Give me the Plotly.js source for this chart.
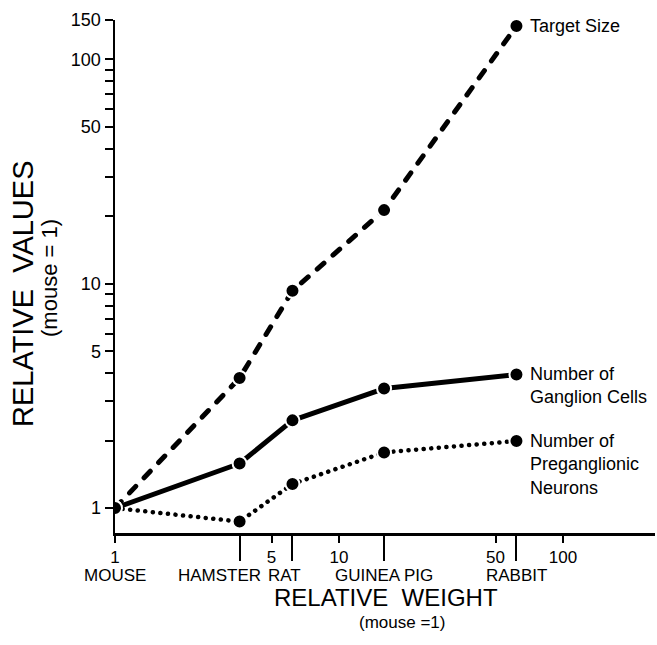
<!DOCTYPE html>
<html>
<head>
<meta charset="utf-8">
<script src="https://cdn.plot.ly/plotly-3.0.1.min.js"></script>
<style>
  html, body { margin: 0; padding: 0; background: #fff; }
  #chart { width: 657px; height: 645px; }
  .scatterlayer .js-line { stroke-linecap: round; stroke-linejoin: round; }
</style>
</head>
<body>
<div id="chart"></div>
<script>
// Data (log-log, mouse = 1)
const animals = ["MOUSE", "HAMSTER", "RAT", "GUINEA PIG", "RABBIT"];
const relativeWeight = [1, 3.6, 6.2, 15.9, 62];
const targetSize = [1, 3.8, 9.3, 21.3, 141];
const ganglionCells = [1, 1.58, 2.46, 3.41, 3.94];
const preganglionicNeurons = [1, 0.87, 1.28, 1.77, 1.99];

const seriesLabels = ["Target Size", "Number of<br>Ganglion Cells", "Number of<br>Preganglionic<br>Neurons"];

const xTickVals = [1, 5, 10, 50, 100];
const xTickText = ["1", "5", "10", "50", "100"];
const yTickVals = [1, 5, 10, 50, 100, 150];
const yTickText = ["1", "5", "10", "50", "100", "150"];
const yMinorVals = [2, 3, 4, 6, 7, 8, 9, 20, 30, 40, 60, 70, 80, 90];

const FONT = "Liberation Sans, Arial, sans-serif";
const marker = { color: "#000", size: 14, line: { color: "#fff", width: 2 } };

const traces = [
  { x: relativeWeight, y: targetSize, mode: "lines+markers", type: "scatter",
    line: { color: "#000", width: 5, dash: "9px,12px" }, marker: marker, hoverinfo: "skip" },
  { x: relativeWeight, y: ganglionCells, mode: "lines+markers", type: "scatter",
    line: { color: "#000", width: 5 }, marker: marker, hoverinfo: "skip" },
  { x: relativeWeight, y: preganglionicNeurons, mode: "lines+markers", type: "scatter",
    line: { color: "#000", width: 4.5, dash: "0.1px,7.5px" }, marker: marker, hoverinfo: "skip" },
  // carrier for the animal tick axis
  { x: relativeWeight.slice(1), y: ganglionCells.slice(1), xaxis: "x2", yaxis: "y", mode: "markers",
    marker: { opacity: 0 }, hoverinfo: "skip", showlegend: false }
];

const annotations = [];
// series labels at the last point
const seriesData = [targetSize, ganglionCells, preganglionicNeurons];
const last = relativeWeight.length - 1;
seriesData.forEach((s, i) => {
  annotations.push({
    x: Math.log10(relativeWeight[last]), y: Math.log10(s[last]), xref: "x", yref: "y",
    text: seriesLabels[i], showarrow: false, xanchor: "left", yanchor: "top",
    align: "left", xshift: 12, yshift: 12,
    font: { family: FONT, size: 18, color: "#000" }
  });
});
// animal names under the axis
const nameShift = [0, -20, -8, 0, 0];
animals.forEach((a, i) => {
  annotations.push({
    x: Math.log10(relativeWeight[i]), y: -0.0838, xref: "x", yref: "paper",
    text: a, showarrow: false, xanchor: "center", yanchor: "middle", xshift: nameShift[i],
    font: { family: FONT, size: 17, color: "#000" }
  });
});
// axis titles
annotations.push(
  { x: -0.1704, y: 0.4659, xref: "paper", yref: "paper", text: "RELATIVE  VALUES", textangle: -90,
    xanchor: "center", yanchor: "middle",
    showarrow: false, font: { family: FONT, size: 29, color: "#000" } },
  { x: -0.1204, y: 0.4971, xref: "paper", yref: "paper", text: "(mouse = 1)", textangle: -90,
    xanchor: "center", yanchor: "middle",
    showarrow: false, font: { family: FONT, size: 22, color: "#000" } },
  { x: 0.5019, y: -0.1266, xref: "paper", yref: "paper", text: "RELATIVE  WEIGHT",
    xanchor: "center", yanchor: "middle",
    showarrow: false, font: { family: FONT, size: 24, color: "#000" } },
  { x: 0.5315, y: -0.1735, xref: "paper", yref: "paper", text: "(mouse =1)",
    xanchor: "center", yanchor: "middle",
    showarrow: false, font: { family: FONT, size: 17, color: "#000" } }
);

const layout = {
  width: 657, height: 645,
  margin: { l: 115, r: 2, t: 20, b: 112 },
  paper_bgcolor: "#fff", plot_bgcolor: "#fff",
  showlegend: false,
  font: { family: FONT, color: "#000" },
  xaxis: {
    type: "log", range: [0, 2.411], showgrid: false, zeroline: false,
    showline: true, linecolor: "#000", linewidth: 3,
    tickmode: "array", tickvals: xTickVals, ticktext: xTickText,
    ticks: "outside", ticklen: 7, tickwidth: 2, tickcolor: "#000",
    tickfont: { family: FONT, size: 17, color: "#000" }
  },
  xaxis2: {
    type: "log", range: [0, 2.411], overlaying: "x", anchor: "y", side: "bottom",
    showgrid: false, zeroline: false, showline: false,
    tickmode: "array", tickvals: relativeWeight.slice(1),
    ticks: "outside", ticklen: 27, tickwidth: 2, tickcolor: "#000",
    showticklabels: false
  },
  yaxis: {
    type: "log", range: [Math.log10(0.774), Math.log10(150)], showgrid: false, zeroline: false,
    showline: true, linecolor: "#000", linewidth: 2.5,
    tickmode: "array", tickvals: yTickVals, ticktext: yTickText,
    ticks: "outside", ticklen: 8, tickwidth: 2, tickcolor: "#000",
    tickfont: { family: FONT, size: 18, color: "#000" },
    minor: { tickmode: "array", tickvals: yMinorVals, ticks: "outside", ticklen: 8, tickwidth: 2, tickcolor: "#000", showgrid: false }
  },
  annotations: annotations
};

Plotly.newPlot("chart", traces, layout, { displayModeBar: false, staticPlot: true });
</script>
</body>
</html>
